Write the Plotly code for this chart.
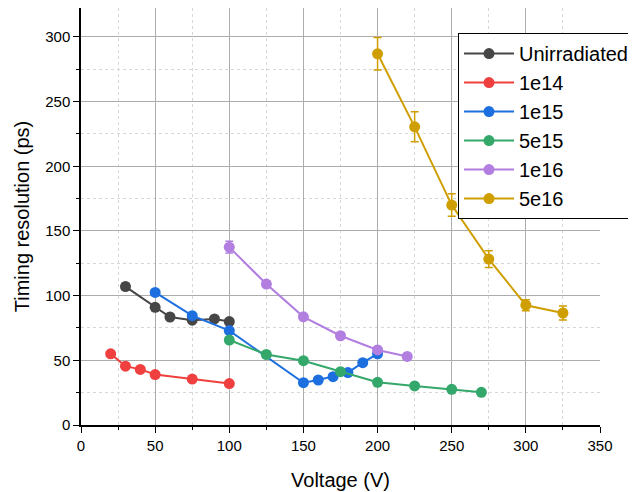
import plotly.graph_objects as go

# ---- data ----
names = ["Unirradiated", "1e14", "1e15", "5e15", "1e16", "5e16"]
colors = ["#464646", "#ef3f3f", "#1d6fe0", "#33a86a", "#b27ee0", "#cf9e00"]

unirr_v = [30, 50, 60, 75, 90, 100]
unirr_t = [107, 91, 83.5, 81, 82, 80]
unirr_e = [2.5, 1.5, 1.5, 1.5, 1.5, 1.5]

e14_v = [20, 30, 40, 50, 75, 100]
e14_t = [55, 45.5, 43, 39, 35.5, 32]
e14_e = [1.2, 1.2, 1.2, 1.2, 1.2, 1.2]

e15_v = [50, 75, 100, 150, 160, 170, 180, 190, 200]
e15_t = [102.5, 84.5, 73, 32.7, 34.8, 37.4, 40.5, 48.2, 55]
e15_e = [1.5, 1.5, 1.5, 1.2, 1.2, 1.2, 1.2, 1.2, 1.5]

e5e15_v = [100, 125, 150, 175, 200, 225, 250, 270]
e5e15_t = [65.7, 54.5, 49.7, 41.2, 33, 30.2, 27.6, 25.3]
e5e15_e = [1.2, 1.2, 1.2, 1.2, 1.2, 1.2, 1.2, 1.2]

e16_v = [100, 125, 150, 175, 200, 220]
e16_t = [137.5, 109, 83.6, 69, 58, 53]
e16_e = [4.5, 1.5, 1.5, 1.5, 1.5, 1.5]

e5e16_v = [200, 225, 250, 275, 300, 325]
e5e16_t = [287, 230.5, 170, 128.3, 92.6, 86.6]
e5e16_e = [12.5, 11.6, 8.7, 6.5, 4.2, 5.4]

series = [
    (unirr_v, unirr_t, unirr_e),
    (e14_v, e14_t, e14_e),
    (e15_v, e15_t, e15_e),
    (e5e15_v, e5e15_t, e5e15_e),
    (e16_v, e16_t, e16_e),
    (e5e16_v, e5e16_t, e5e16_e),
]

FONT = "Arial, 'Liberation Sans', sans-serif"

fig = go.Figure()
for name, col, (v, t, e) in zip(names, colors, series):
    fig.add_trace(go.Scatter(
        x=v, y=t, name=name, mode="lines+markers",
        line=dict(color=col, width=2),
        marker=dict(color=col, size=11),
        error_y=dict(type="data", array=e, visible=True, color=col,
                     thickness=1.5, width=4),
    ))

grid_major = "#acacac"
grid_minor = "#d8d8d8"

fig.update_layout(
    width=636, height=492,
    margin=dict(l=73, r=44, t=0, b=75),
    paper_bgcolor="white", plot_bgcolor="white",
    font=dict(family=FONT, color="black"),
    showlegend=True,
    legend=dict(
        x=0.7264, xanchor="left", y=0.940, yanchor="top",
        bgcolor="white", bordercolor="black", borderwidth=1,
        font=dict(family=FONT, size=20, color="black"),
        tracegroupgap=0, itemwidth=50,
    ),
    xaxis=dict(
        range=[0, 350], dtick=50, tick0=0,
        showline=True, linecolor="black", linewidth=1.5,
        ticks="outside", ticklen=6, tickwidth=1.2, tickcolor="black",
        tickfont=dict(size=15, family=FONT),
        showgrid=True, gridcolor=grid_major, gridwidth=1,
        zeroline=False,
        minor=dict(dtick=25, ticks="outside", ticklen=3, tickcolor="black",
                   showgrid=True, gridcolor=grid_minor, griddash="dot", gridwidth=1),
        title=dict(text="Voltage (V)", font=dict(size=20, family=FONT), standoff=20),
    ),
    yaxis=dict(
        range=[0, 322.4], dtick=50, tick0=0,
        showline=True, linecolor="black", linewidth=1.5,
        ticks="outside", ticklen=6, tickwidth=1.2, tickcolor="black",
        tickfont=dict(size=15, family=FONT),
        showgrid=True, gridcolor=grid_major, gridwidth=1,
        zeroline=False,
        minor=dict(dtick=25, ticks="outside", ticklen=3, tickcolor="black",
                   showgrid=True, gridcolor=grid_minor, griddash="dot", gridwidth=1),
        title=dict(text="Timing resolution (ps)", font=dict(size=20, family=FONT), standoff=10),
    ),
)

fig.write_html("out.html")
